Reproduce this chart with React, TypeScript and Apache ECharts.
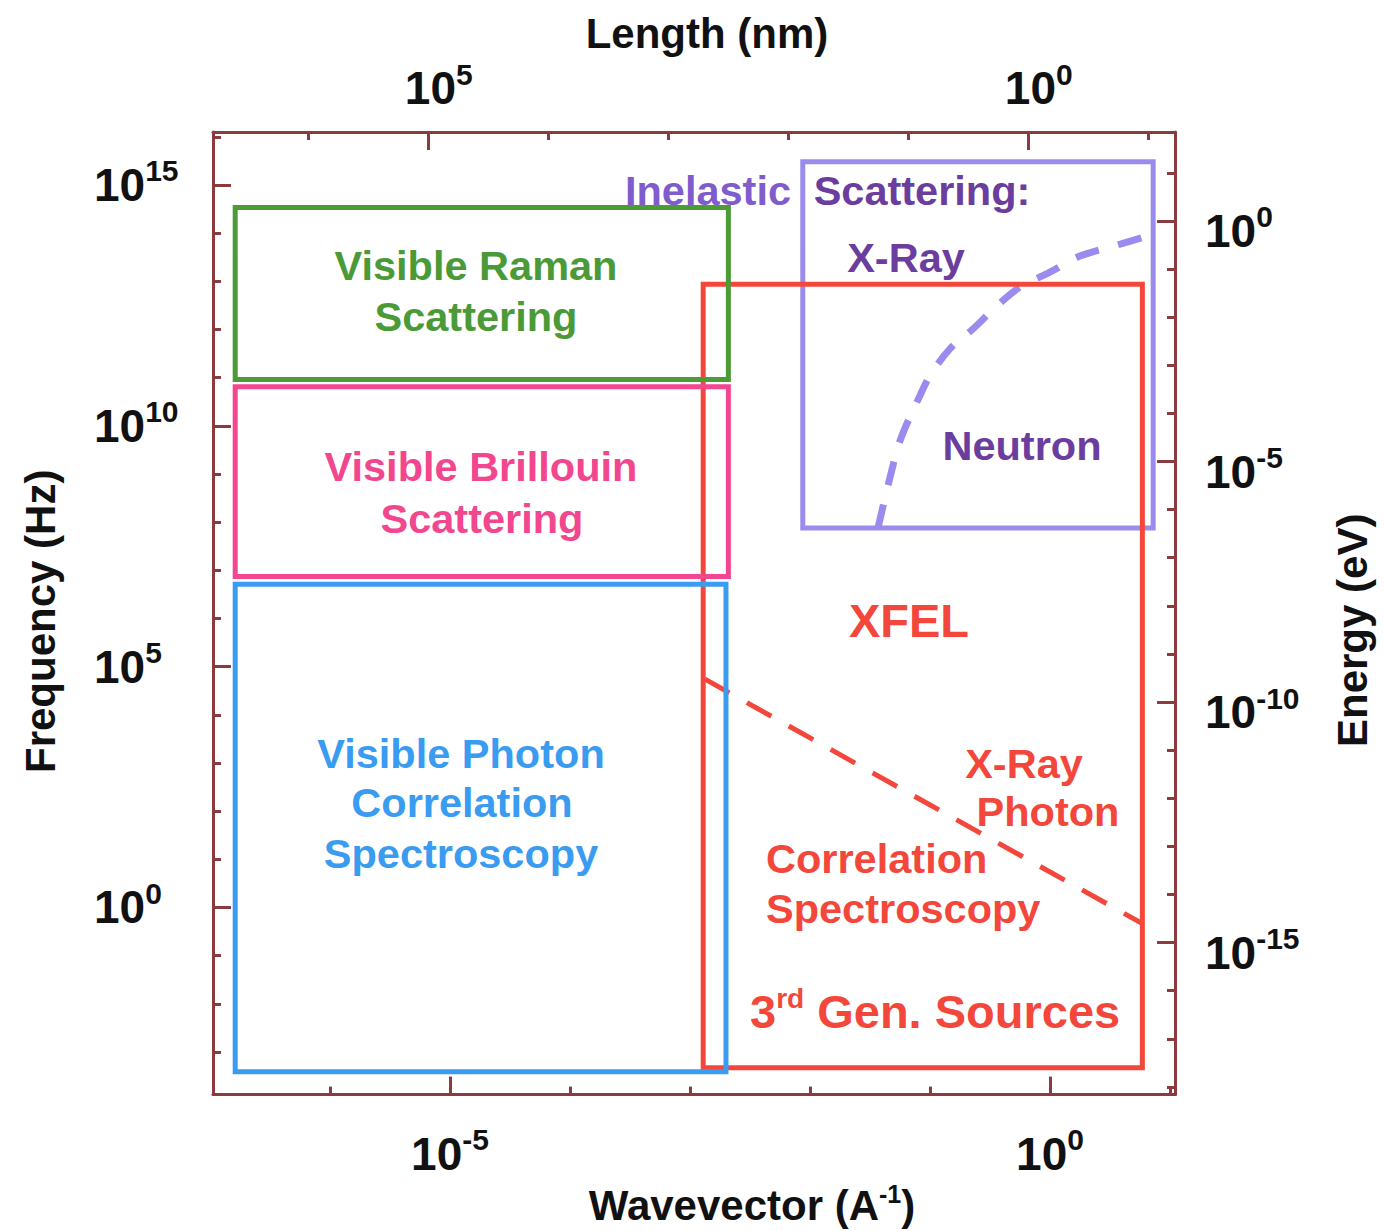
import React, { useEffect, useRef } from "react";
import * as echarts from "echarts";

// ---- data (log10 units) ----
// Wavevector (A^-1) exponents and frequency (Hz) exponents
const boxNames = ["Inelastic", "XFEL", "PCS", "Brillouin", "Raman"];
const boxColors = ["#9a8cee", "#f4473b", "#3a9cf0", "#f2468f", "#4c9b36"];
const boxLogQMin = [-2.06, -2.89, -6.79, -6.79, -6.79];
const boxLogQMax = [0.86, 0.77, -2.7, -2.68, -2.68];
const boxLogFMin = [7.88, -3.33, -3.41, 6.87, 10.96];
const boxLogFMax = [15.48, 12.94, 6.71, 10.81, 14.53];

const neutronLogQ = [-1.433, -1.308, -1.233, -1.083, -1.0, -0.833, -0.642, -0.442, -0.25, 0.0, 0.225, 0.5, 0.775];
const neutronLogF = [7.88, 9.18, 9.8, 10.63, 11.04, 11.6, 12.01, 12.49, 12.88, 13.19, 13.5, 13.71, 13.91];

const xpcsLogQ = [-2.875, 0.767];
const xpcsLogF = [4.74, -0.33];

// axis ranges & ticks (exponents)
const qRange = [-6.975, 1.042];
const lenRange = [-1.227, 6.79];
const freqRange = [-3.885, 16.1];
const energyRange = [-18.16, 1.85];

const qMajor = [-5, 0];
const qMinor = [-6, -4, -3, -2, -1, 1];
const lenMajor = [0, 5];
const lenMinor = [-1, 1, 2, 3, 4, 6];
const freqMajor = [0, 5, 10, 15];
const freqMinor = [-3, -2, -1, 1, 2, 3, 4, 6, 7, 8, 9, 11, 12, 13, 14, 16];
const energyMajor = [-15, -10, -5, 0];
const energyMinor = [-18, -17, -16, -14, -13, -12, -11, -9, -8, -7, -6, -4, -3, -2, -1, 1];

const FONT = "'Liberation Sans', Arial, Helvetica, sans-serif";
const FRAME = "#8b3a3e";
const INK = "#111111";

const labelRich = {
  b: { fontSize: 46, fontWeight: "bold", fontFamily: FONT, color: INK },
  s: { fontSize: 30, fontWeight: "bold", fontFamily: FONT, color: INK, padding: [0, 0, 28, 0] },
};
const powFmt = (v: number) => `{b|10}{s|${Math.round(v)}}`;

function mainAxis(position: string, range: number[], major: number[], extra: any) {
  return {
    type: "value",
    position,
    min: range[0],
    max: range[1],
    axisLine: { show: true, onZero: false, lineStyle: { color: FRAME, width: 3 } },
    axisTick: {
      show: true,
      inside: true,
      length: 18,
      customValues: major,
      lineStyle: { color: FRAME, width: 3 },
    },
    axisLabel: {
      show: true,
      customValues: major,
      formatter: powFmt,
      rich: labelRich,
    },
    splitLine: { show: false },
    ...extra,
  };
}

function minorAxis(position: string, range: number[], minor: number[], extra: any) {
  return {
    type: "value",
    position,
    min: range[0],
    max: range[1],
    axisLine: { show: false, onZero: false },
    axisTick: {
      show: true,
      inside: true,
      length: 8,
      customValues: minor,
      lineStyle: { color: FRAME, width: 3 },
    },
    axisLabel: { show: false },
    splitLine: { show: false },
    ...extra,
  };
}

const nameStyle = (pad: number[]) => ({
  fontSize: 42,
  fontWeight: "bold",
  fontFamily: FONT,
  color: INK,
  padding: pad,
  rich: {
    s: { fontSize: 25, fontWeight: "bold", fontFamily: FONT, color: INK, padding: [0, 0, 22, 0] },
  },
});

function txt(text: string, x: number, y: number, fill: string, align = "center", size = 41.5, rich?: any) {
  return {
    type: "text",
    x,
    y,
    z: 100,
    silent: true,
    style: {
      text,
      fill,
      fontSize: size,
      fontWeight: "bold",
      fontFamily: FONT,
      textAlign: align,
      textVerticalAlign: "middle",
      rich,
    },
  };
}

export default function App() {
  const ref = useRef<HTMLDivElement>(null);
  useEffect(() => {
    if (!ref.current) return;
    const chart = echarts.init(ref.current, undefined, { renderer: "svg" });

    const boxSeries = boxNames.map((name, i) => ({
      name,
      type: "line",
      xAxisIndex: 0,
      yAxisIndex: 0,
      symbol: "none",
      silent: true,
      lineStyle: { color: boxColors[i], width: 5, join: "miter", cap: "square" },
      data: [
        [boxLogQMin[i], boxLogFMin[i]],
        [boxLogQMax[i], boxLogFMin[i]],
        [boxLogQMax[i], boxLogFMax[i]],
        [boxLogQMin[i], boxLogFMax[i]],
        [boxLogQMin[i], boxLogFMin[i]],
      ],
    }));

    const neutronSeries = {
      name: "Neutron",
      type: "line",
      xAxisIndex: 0,
      yAxisIndex: 0,
      symbol: "none",
      silent: true,
      smooth: 0.35,
      lineStyle: { color: "#9d8aee", width: 7, type: [24, 20], cap: "butt" },
      data: neutronLogQ.map((q, i) => [q, neutronLogF[i]]),
    };
    const xpcsSeries = {
      name: "XPCS",
      type: "line",
      xAxisIndex: 0,
      yAxisIndex: 0,
      symbol: "none",
      silent: true,
      lineStyle: { color: "#f4473b", width: 5, type: [28, 20], cap: "butt" },
      data: xpcsLogQ.map((q, i) => [q, xpcsLogF[i]]),
    };

    const series = [boxSeries[0], neutronSeries, boxSeries[1], xpcsSeries, boxSeries[2], boxSeries[3], boxSeries[4]];

    const supRich = {
      s: { fontSize: 28, fontWeight: "bold", fontFamily: FONT, fill: "#f4473b", padding: [0, 0, 26, 0] },
    };

    chart.setOption({
      animation: false,
      backgroundColor: "#ffffff",
      grid: { left: 213, right: 209, top: 132, bottom: 131, containLabel: false },
      xAxis: [
        mainAxis("bottom", qRange, qMajor, {
          name: "Wavevector (A{s|-1})",
          nameLocation: "middle",
          nameGap: 73,
          nameTextStyle: nameStyle([0, 0, 0, 116]),
          axisLabel: { show: true, customValues: qMajor, formatter: powFmt, rich: labelRich, margin: 30 },
        }),
        mainAxis("top", lenRange, lenMajor, {
          inverse: true,
          name: "Length (nm)",
          nameLocation: "middle",
          nameGap: 74,
          nameTextStyle: nameStyle([0, 0, 0, 26]),
          axisLabel: {
            show: true,
            customValues: lenMajor,
            formatter: powFmt,
            rich: labelRich,
            margin: 15,
            padding: [0, 0, 0, 22],
          },
        }),
        minorAxis("bottom", qRange, qMinor, {}),
        minorAxis("top", lenRange, lenMinor, { inverse: true }),
      ],
      yAxis: [
        mainAxis("left", freqRange, freqMajor, {
          name: "Frequency (Hz)",
          nameLocation: "middle",
          nameRotate: 90,
          nameGap: 152,
          nameTextStyle: nameStyle([0, 16, 0, 0]),
          axisLabel: {
            show: true,
            customValues: freqMajor,
            formatter: powFmt,
            rich: labelRich,
            align: "left",
            margin: 119,
          },
        }),
        mainAxis("right", energyRange, energyMajor, {
          name: "Energy (eV)",
          nameLocation: "middle",
          nameRotate: 90,
          nameGap: 156,
          nameTextStyle: nameStyle([0, 34, 0, 0]),
          axisLabel: {
            show: true,
            customValues: energyMajor,
            formatter: powFmt,
            rich: labelRich,
            align: "left",
            margin: 30,
            padding: [20, 0, 0, 0],
          },
        }),
        minorAxis("left", freqRange, freqMinor, {}),
        minorAxis("right", energyRange, energyMinor, {}),
      ],
      series,
      graphic: [
        txt("Visible Raman", 476, 265, "#4a9a38"),
        txt("Scattering", 476, 316, "#4a9a38"),
        txt("Visible Brillouin", 481, 466, "#f2468f"),
        txt("Scattering", 482, 518, "#f2468f"),
        txt("Visible Photon", 461, 753, "#3a9cf0"),
        txt("Correlation", 462, 802, "#3a9cf0"),
        txt("Spectroscopy", 461, 853, "#3a9cf0"),
        txt("Inelastic", 708, 190, "#7f5ccc"),
        txt("Scattering:", 922, 190, "#6b3d9e"),
        txt("X-Ray", 906, 257, "#6b3d9e"),
        txt("Neutron", 1022, 445, "#6b3d9e"),
        txt("XFEL", 909, 620, "#f4473b", "center", 47),
        txt("X-Ray", 1024, 763, "#f4473b"),
        txt("Photon", 1048, 811, "#f4473b"),
        txt("Correlation", 766, 858, "#f4473b", "left"),
        txt("Spectroscopy", 766, 908, "#f4473b", "left"),
        txt("3{s|rd} Gen. Sources", 750, 1011, "#f4473b", "left", 47, supRich),
      ],
    });
    return () => chart.dispose();
  }, []);

  return (
    <div
      ref={ref}
      style={{ position: "fixed", left: 0, top: 0, width: 1384, height: 1231, background: "#fff" }}
    />
  );
}
